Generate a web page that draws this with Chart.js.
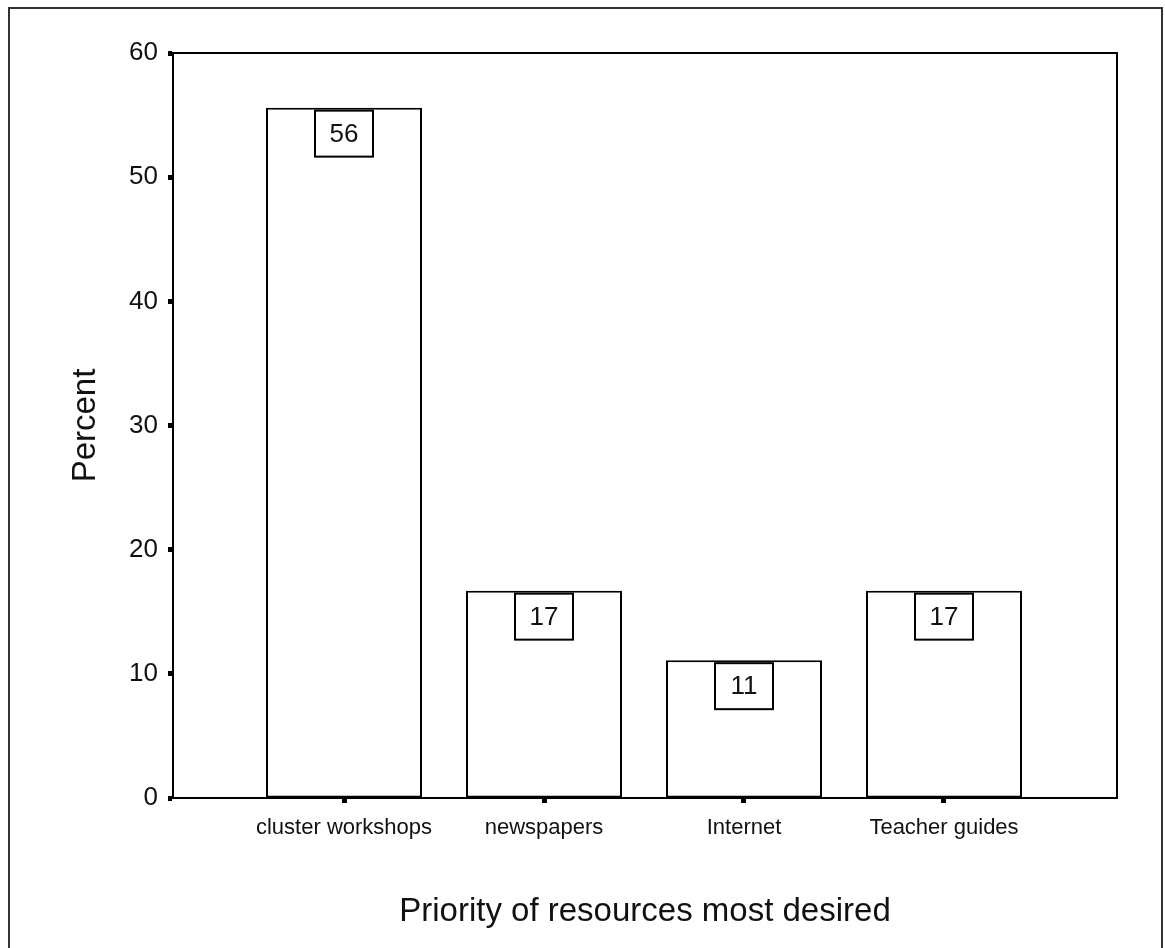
<!DOCTYPE html>
<html>
<head>
<meta charset="utf-8">
<script src="https://cdn.jsdelivr.net/npm/chart.js@4"></script>
<style>
html,body{margin:0;padding:0;background:#fff;}
canvas{display:block;}
</style>
</head>
<body>
<canvas id="c" width="1165" height="948"></canvas>
<script>
const categories = ['cluster workshops', 'newspapers', 'Internet', 'Teacher guides'];
const percentValues = [55.6, 16.7, 11.1, 16.7];
const yTicks = [0, 10, 20, 30, 40, 50, 60];
const xTitle = 'Priority of resources most desired';
const yTitle = 'Percent';

const FONT = "'Liberation Sans', Arial, sans-serif";
const mctx = document.createElement('canvas').getContext('2d');
mctx.font = "26px 'Liberation Sans Narrow', monospace";
const wN = mctx.measureText('cluster workshops').width;
mctx.font = "26px monospace";
const wM = mctx.measureText('cluster workshops').width;
const hasNarrow = Math.abs(wN - wM) > 0.5;
const xTickFont = hasNarrow ? {family: "'Liberation Sans Narrow'", size: 26} : {family: FONT, size: 22};

const framePlugin = {
  id: 'frame',
  beforeDraw(chart) {
    const ctx = chart.ctx;
    ctx.save();
    ctx.fillStyle = '#fff';
    ctx.fillRect(0, 0, chart.width, chart.height);
    ctx.strokeStyle = '#333';
    ctx.lineWidth = 2;
    ctx.beginPath();
    ctx.moveTo(9, chart.height);
    ctx.lineTo(9, 8);
    ctx.lineTo(1162, 8);
    ctx.lineTo(1162, chart.height);
    ctx.stroke();
    ctx.restore();
  },
  afterDraw(chart) {
    const a = chart.chartArea;
    const ctx = chart.ctx;
    ctx.save();
    ctx.strokeStyle = '#000';
    ctx.lineWidth = 2;
    ctx.strokeRect(a.left, a.top, a.right - a.left, a.bottom - a.top);
    ctx.restore();
  }
};

const labelPlugin = {
  id: 'valueBoxes',
  afterDatasetsDraw(chart) {
    const ctx = chart.ctx;
    const meta = chart.getDatasetMeta(0);
    ctx.save();
    ctx.font = "26px " + FONT;
    ctx.textAlign = 'center';
    ctx.textBaseline = 'middle';
    meta.data.forEach((bar, i) => {
      const w = 58, h = 46;
      const x = bar.x - w / 2;
      const y = bar.y + 3;
      ctx.fillStyle = '#fff';
      ctx.fillRect(x, y, w, h);
      ctx.strokeStyle = '#000';
      ctx.lineWidth = 2;
      ctx.strokeRect(x, y, w, h);
      ctx.fillStyle = '#111';
      ctx.fillText(String(Math.round(percentValues[i])), bar.x, y + h / 2 + 1);
    });
    ctx.restore();
  }
};

new Chart(document.getElementById('c'), {
  type: 'bar',
  data: {
    datasets: [{
      data: percentValues.map((v, i) => ({x: i, y: v})),
      backgroundColor: '#fff',
      borderColor: '#000',
      borderWidth: 2,
      borderSkipped: false,
      categoryPercentage: 1,
      barPercentage: 0.78
    }]
  },
  options: {
    responsive: false,
    devicePixelRatio: 1,
    animation: false,
    events: [],
    layout: {padding: {left: 0, top: 53, right: 48, bottom: 0}},
    plugins: {legend: {display: false}, tooltip: {enabled: false}},
    scales: {
      x: {
        type: 'linear',
        offset: false,
        min: -0.855,
        max: 3.865,
        afterBuildTicks(scale) { scale.ticks = categories.map((c, i) => ({value: i})); },
        afterFit(scale) { scale.height = 150; },
        ticks: {
          autoSkip: false,
          maxRotation: 0,
          minRotation: 0,
          padding: 12,
          color: '#111',
          font: xTickFont,
          callback(v) { return categories[v]; }
        },
        grid: {offset: false, drawOnChartArea: false, drawTicks: true, tickLength: 5, tickWidth: 5, tickColor: '#000'},
        border: {display: true, color: '#000', width: 2},
        title: {display: true, text: xTitle, color: '#111', font: {family: FONT, size: 33}, padding: {top: 0, bottom: 16}}
      },
      y: {
        min: 0,
        max: 60,
        afterBuildTicks(scale) { scale.ticks = yTicks.map(v => ({value: v})); },
        afterFit(scale) { scale.width = 173; },
        ticks: {padding: 10, color: '#111', font: {family: FONT, size: 26}},
        grid: {drawOnChartArea: false, drawTicks: true, tickLength: 5, tickWidth: 5, tickColor: '#000'},
        border: {display: true, color: '#000', width: 2},
        title: {display: true, text: yTitle, color: '#111', font: {family: FONT, size: 33}, padding: {top: 66, bottom: 0}}
      }
    }
  },
  plugins: [framePlugin, labelPlugin]
});
</script>
</body>
</html>
